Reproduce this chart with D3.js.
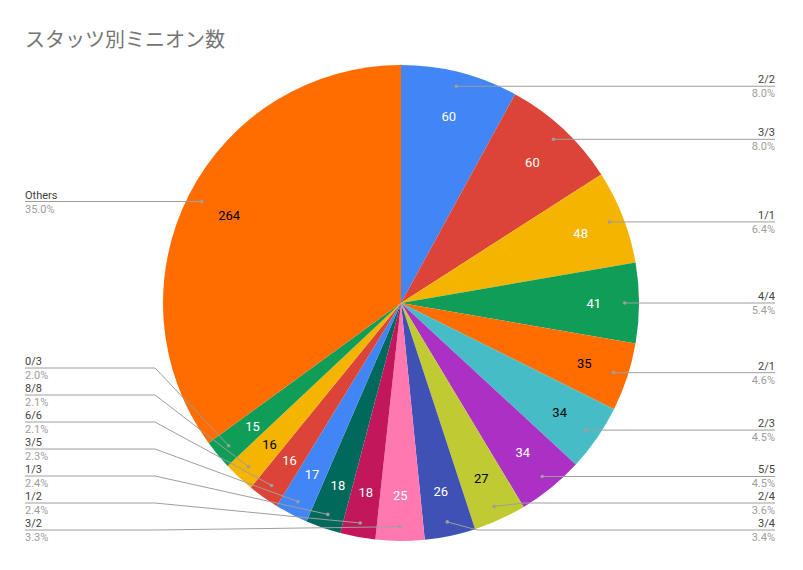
<!DOCTYPE html>
<html><head><meta charset="utf-8">
<script src="https://cdn.jsdelivr.net/npm/d3@7"></script>
<style>body{margin:0;background:#fff;font-family:Roboto,"Noto Sans CJK JP",sans-serif}</style>
</head><body><div id="chart"></div>
<script>
const names = ["2/2","3/3","1/1","4/4","2/1","2/3","5/5","2/4","3/4","3/2","1/2","1/3","3/5","6/6","8/8","0/3","Others"];
const values = [60,60,48,41,35,34,34,27,26,25,18,18,17,16,16,15,264];
const colors = ["#4285f4","#db4437","#f4b400","#0f9d58","#ff6d01","#46bdc6","#ab30c4","#c0ca33","#3f51b5","#ff79b0","#c2185b","#00695c","#4285f4","#db4437","#f4b400","#0f9d58","#ff6d01"];
const darkText = ["2/1","2/3","2/4","8/8","Others"];

const W = 803, H = 570, cx = 401, cy = 303, r = 238;
const svg = d3.select("#chart").append("svg").attr("width", W).attr("height", H);

svg.append("text").attr("x", 25).attr("y", 47).attr("font-size", 20).attr("fill", "#757575")
  .attr("font-family", "'Noto Sans CJK JP',sans-serif").text("スタッツ別ミニオン数");

const total = d3.sum(values);
const pie = d3.pie().sort(null).value(d => d.v);
const data = pie(names.map((n, i) => ({n, v: values[i], c: colors[i]})));
const arc = d3.arc().innerRadius(0).outerRadius(r);
const g = svg.append("g").attr("transform", `translate(${cx},${cy})`);

g.selectAll("path").data(data).enter().append("path")
  .attr("d", arc).attr("fill", d => d.data.c);

const lblArc = d3.arc().innerRadius(r * 0.81).outerRadius(r * 0.81);
g.selectAll("text.v").data(data).enter().append("text")
  .attr("transform", d => `translate(${lblArc.centroid(d)})`)
  .attr("text-anchor", "middle").attr("dy", "0.35em").attr("font-size", 13)
  .attr("fill", d => darkText.includes(d.data.n) ? "#000" : "#fff")
  .text(d => d.data.v);

// leader labels
const dotArc = d3.arc().innerRadius(r * 0.94).outerRadius(r * 0.94);
const items = data.map(d => {
  const p = dotArc.centroid(d);
  return {d, ax: p[0] + cx, ay: p[1] + cy, side: p[0] > 0 ? "R" : "L"};
});
["R", "L"].forEach(side => {
  const arr = items.filter(it => it.side === side).sort((a, b) => a.ay - b.ay);
  let last = -Infinity;
  arr.forEach(it => { it.ly = Math.max(it.ay, last + 27); last = it.ly; });
  // keep within chart bottom
  let maxY = 530;
  for (let i = arr.length - 1; i >= 0; i--) {
    if (arr[i].ly > maxY) arr[i].ly = maxY;
    maxY = arr[i].ly - 27;
  }
});
const lab = svg.append("g");
items.forEach(it => {
  const R = it.side === "R";
  const xEnd = R ? 775 : 25;
  let pts;
  if (Math.abs(it.ly - it.ay) < 2) pts = [[xEnd, it.ay], [it.ax, it.ay]];
  else {
    const ex = R ? Math.max(it.ax + 30, it.ax) : Math.min(it.ax - 60, 155);
    pts = [[xEnd, it.ly], [ex, it.ly], [it.ax, it.ay]];
  }
  lab.append("path").attr("d", d3.line()(pts)).attr("fill", "none").attr("stroke", "#9e9e9e").attr("stroke-width", 1);
  lab.append("circle").attr("cx", it.ax).attr("cy", it.ay).attr("r", 1.8).attr("fill", "#9e9e9e");
  const y = Math.abs(it.ly - it.ay) < 2 ? it.ay : it.ly;
  lab.append("text").attr("x", xEnd).attr("y", y - 3).attr("text-anchor", R ? "end" : "start")
    .attr("font-size", 11).attr("fill", "#424242").text(it.d.data.n);
  lab.append("text").attr("x", xEnd).attr("y", y + 11).attr("text-anchor", R ? "end" : "start")
    .attr("font-size", 11).attr("fill", "#9e9e9e").text((it.d.data.v / total * 100).toFixed(1) + "%");
});
</script></body></html>
